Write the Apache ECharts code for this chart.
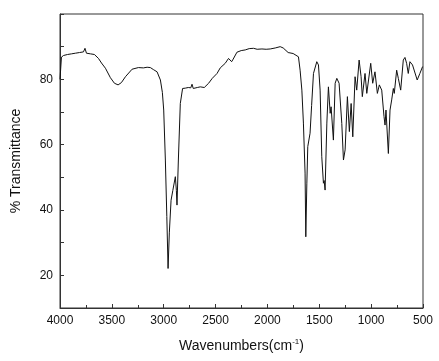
<!DOCTYPE html>
<html>
<head>
<meta charset="utf-8">
<script src="https://cdn.jsdelivr.net/npm/echarts@6/dist/echarts.min.js"></script>
<style>html,body{margin:0;padding:0;background:#fff;}#c{width:439px;height:361px;}</style>
</head>
<body>
<div id="c"></div>
<script>
var wavenumbers = [4000,3986,3966,3947,3928,3909,3889,3870,3851,3832,3812,3793,3774,3759,3745,3726,3706,3687,3668,3649,3629,3600,3562,3514,3475,3440,3408,3369,3305,3244,3196,3160,3129,3100,3064,3032,3013,3000,2984,2970,2958,2946,2929,2912,2888,2878,2872,2859,2840,2818,2792,2763,2739,2727,2715,2696,2676,2647,2609,2567,2532,2486,2455,2407,2375,2359,2345,2330,2294,2253,2214,2176,2134,2099,2053,2012,1973,1925,1877,1848,1829,1800,1781,1752,1733,1701,1685,1668,1653,1637,1630,1620,1611,1589,1574,1556,1524,1508,1492,1476,1460,1453,1444,1427,1412,1395,1386,1364,1347,1331,1309,1283,1267,1251,1229,1210,1193,1177,1155,1139,1116,1097,1085,1059,1042,1004,985,963,940,921,898,876,866,857,834,818,802,786,777,754,738,715,690,674,658,642,626,601,556,530,504];
var transmittance = [80,86.8,87.3,87.0,87.6,87.2,87.8,87.3,88.0,87.4,88.2,87.6,88.4,89.5,88.0,88.6,87.8,88.3,87.6,87.8,86.4,85,83.4,80.5,78.8,78.3,79,80.8,83.1,83.6,83.5,83.7,83.6,83,82.3,79.8,76,70.6,55.3,38,22.1,33,43,46,50.2,46,41.5,55,72.6,77.2,77.3,77.5,77.4,78.5,77.2,76.9,77.5,77.7,77.5,78.8,80.3,81.8,83.5,84.9,86.4,86.9,85.4,86.2,88.3,88.8,89.0,89.4,89.5,89.2,89.3,89.2,89.3,89.6,90,89.6,89,88.2,88,87.9,87.7,86.9,82.8,76.7,66.6,51.3,31.8,48,59.4,63.5,72,81.8,85.4,84.4,76.7,56.3,48.2,49,46.1,66.6,77.7,69.6,71.6,61.4,78.8,80.3,78.8,66.5,55.3,58.4,74.7,64,72.6,62.4,80.8,76.7,85.9,80.8,74.7,81.8,75.7,84.9,78.8,82.3,75.7,78.3,76.7,68.6,66,70.6,57.3,70.6,73.7,77.2,75.7,82.8,80.3,76.7,85.9,86.7,84.9,81.8,85.4,84.4,79.8,81.8,83.9];
var yLabels = [20,40,60,80];
var xName = 'Wavenumbers(cm';
var yName = '% Transmittance';

var seriesData = wavenumbers.map(function(w,i){return [w, transmittance[i]];});
var chart = echarts.init(document.getElementById('c'), null, {renderer:'canvas'});
var font = 'Liberation Sans, Arial, sans-serif';
chart.setOption({
  animation:false,
  backgroundColor:'#fff',
  grid:{left:60,right:16,top:14,bottom:53,show:true,borderColor:'#333',borderWidth:1,backgroundColor:'transparent'},
  xAxis:{type:'value',inverse:true,min:500,max:4000,interval:500,
    axisLine:{lineStyle:{color:'#333',width:1}},
    axisTick:{inside:true,length:4,lineStyle:{color:'#333'}},
    minorTick:{show:true,splitNumber:2,length:3,lineStyle:{color:'#333'}},
    splitLine:{show:false},
    axisLabel:{color:'#111',fontSize:12,fontFamily:font,margin:7,formatter:function(v){return String(v);}},
    name:'{a|'+xName+'}{b|-1}{a|)}',nameLocation:'middle',nameGap:30,
    nameTextStyle:{rich:{a:{fontSize:14,fontFamily:font,color:'#111'},b:{fontSize:8,fontFamily:font,color:'#111',verticalAlign:'top',padding:[0,0,8,0]}}}
  },
  yAxis:{type:'value',min:10,max:100,interval:10,
    axisLine:{lineStyle:{color:'#333',width:1}},
    axisTick:{inside:true,length:4,lineStyle:{color:'#333'}},
    splitLine:{show:false},
    axisLabel:{color:'#111',fontSize:12,fontFamily:font,margin:7,
      formatter:function(v){return yLabels.indexOf(v)>=0?String(v):'';}},
    name:yName,nameLocation:'middle',nameGap:37,
    nameTextStyle:{fontSize:14,fontFamily:font,color:'#111'}
  },
  series:[{type:'line',data:seriesData,showSymbol:false,smooth:false,
    lineStyle:{color:'#111',width:1}}]
});
</script>
</body>
</html>
